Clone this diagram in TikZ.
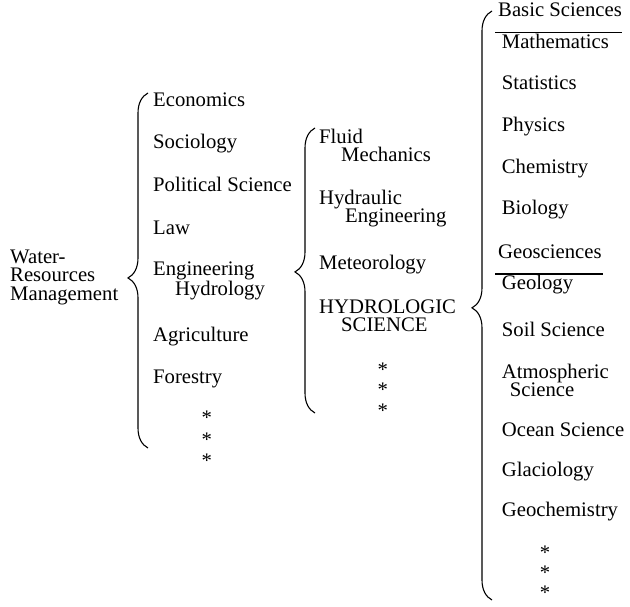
\documentclass[tikz,border=0pt]{standalone}
\usepackage{fontspec}
\setmainfont{Liberation Serif}
\usetikzlibrary{decorations.pathreplacing}

\begin{document}
\begin{tikzpicture}
  [x=1pt, y=-1pt,
   every node/.style={inner sep=0pt, anchor=base west, align=left,
                      font=\fontsize{20.7}{18.5}\selectfont},
   curly/.style={decorate, decoration={brace, amplitude=20pt, aspect=#1},
                 line width=1.1pt},
   curly/.default=0.5,
   underline/.style={line width=1.3pt},
   star/.style={anchor=base}]
  \useasboundingbox (0,0) rectangle (630,607);

  % root (a multi-line node sits on its last line)
  \node (wrm) at (10,300) {Water-\\Resources\\Management};

  % first level
  \coordinate (b1top) at (148,93);
  \coordinate (b1bot) at (148,448);
  \draw [curly=0.479] (b1bot) -- (b1top);
  \node (econ)  at (153,106.7) {Economics};
  \node (socio) at (153,149)   {Sociology};
  \node (polsc) at (153,191.7) {Political Science};
  \node (law)   at (153,235)   {Law};
  \node (enghy) at (153,295)   {Engineering\\\hspace*{22pt}Hydrology};
  \node (agri)  at (153,341.7) {Agriculture};
  \node (fores) at (153,383)   {Forestry};
  \foreach \y [count=\i] in {415,437,458}
    \node [star] (sa\i) at (206.7,\y+9.7) {*};

  % second level
  \coordinate (b2top) at (315,128);
  \coordinate (b2bot) at (315,413);
  \draw [curly=0.495] (b2bot) -- (b2top);
  \node (fluid) at (319,162)   {Fluid\\\hspace*{22pt}Mechanics};
  \node (hydra) at (319,223)   {Hydraulic\\\hspace*{26pt}Engineering};
  \node (meteo) at (319,269.3) {Meteorology};
  \node (hysci) at (319,331.7) {HYDROLOGIC\\\hspace*{22pt}SCIENCE};
  \foreach \y [count=\i] in {367,387,408}
    \node [star] (sb\i) at (382.7,\y+9.7) {*};

  % third level
  \coordinate (b3top) at (492,11);
  \coordinate (b3bot) at (492,600);
  \draw [curly=0.496] (b3bot) -- (b3top);
  \node (basic) at (498,16.7) {Basic Sciences};
  \draw [underline] ([xshift=-3pt,yshift=-15.6pt]basic.base west)
     -- ([yshift=-15.6pt]basic.base east);
  \node (math)  at (501.7,48.3)  {Mathematics};
  \node (stat)  at (501.7,90)    {Statistics};
  \node (phys)  at (501.7,131.7) {Physics};
  \node (chem)  at (501.7,173.3) {Chemistry};
  \node (bio)   at (501.7,215)   {Biology};
  \node (geosc) at (498,258.3)   {Geosciences};
  \draw [underline] ([xshift=-3pt,yshift=-15.6pt]geosc.base west)
     -- ([xshift=1pt,yshift=-15.6pt]geosc.base east);
  \node (geol)  at (501.7,290)   {Geology};
  \node (soil)  at (501.7,336.7) {Soil Science};
  \node (atmos) at (501.7,396.7) {Atmospheric\\\hspace*{8pt}Science};
  \node (ocean) at (501.7,436.7) {Ocean Science};
  \node (glac)  at (501.7,476.7) {Glaciology};
  \node (gchem) at (501.7,516.7) {Geochemistry};
  \foreach \y [count=\i] in {550,570,590}
    \node [star] (sc\i) at (545,\y+9.7) {*};
\end{tikzpicture}
\end{document}
